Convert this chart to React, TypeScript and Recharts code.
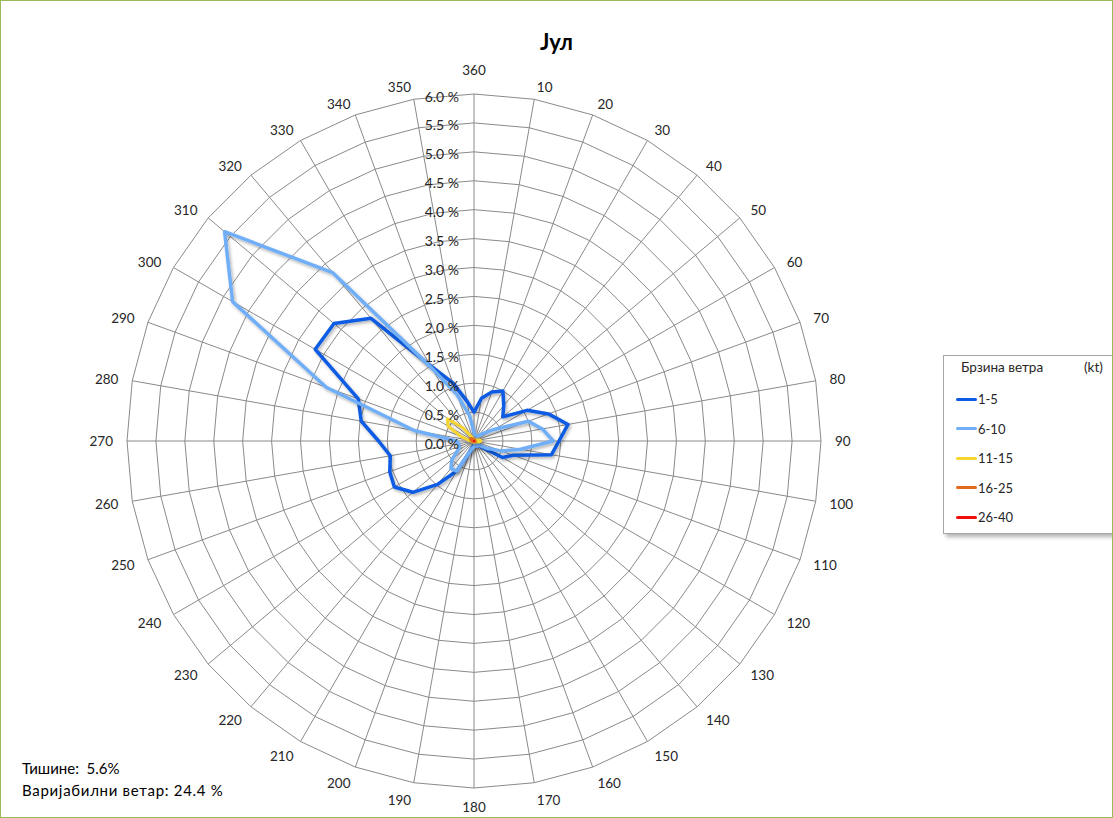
import React from 'react';
import {
  RadarChart,
  Radar,
  PolarGrid,
  PolarAngleAxis,
  PolarRadiusAxis,
  Legend,
} from 'recharts';

// wind directions, clockwise from north
const directions = [
  360, 10, 20, 30, 40, 50, 60, 70, 80, 90, 100, 110, 120, 130, 140, 150, 160, 170,
  180, 190, 200, 210, 220, 230, 240, 250, 260, 270, 280, 290, 300, 310, 320, 330, 340, 350,
];

// % of observations per direction, one list per speed class
const speed1to5 = [
  0.5, 0.75, 0.9, 1.0, 0.8, 0.65, 1.06, 1.37, 1.65, 1.47, 1.36, 0.72, 0.57, 0.15, 0.1, 0.1, 0.08, 0.08,
  0.08, 0.1, 0.2, 0.6, 0.98, 1.38, 1.59, 1.55, 1.47, 1.65, 1.98, 2.13, 3.17, 3.16, 2.77, 1.5, 1.07, 0.7,
];
const speed6to10 = [
  0.15, 0.1, 0.1, 0.1, 0.12, 0.2, 0.4, 1.0, 1.2, 1.37, 0.82, 0.5, 0.25, 0.12, 0.1, 0.1, 0.08, 0.08,
  0.1, 0.12, 0.18, 0.6, 0.62, 0.5, 0.32, 0.27, 0.27, 0.3, 1.05, 2.72, 4.82, 5.63, 3.8, 1.45, 0.85, 0.45,
];
const speed11to15 = [
  0.02, 0.02, 0.02, 0.02, 0.02, 0.03, 0.04, 0.05, 0.1, 0.12, 0.08, 0.03, 0.02, 0.02, 0.02, 0.02, 0.02, 0.02,
  0.02, 0.02, 0.02, 0.02, 0.02, 0.02, 0.02, 0.03, 0.04, 0.05, 0.1, 0.25, 0.52, 0.6, 0.3, 0.08, 0.03, 0.02,
];
const speed16to25 = [
  0.02, 0.02, 0.02, 0.02, 0.02, 0.02, 0.02, 0.02, 0.02, 0.02, 0.02, 0.02, 0.02, 0.02, 0.02, 0.02, 0.02, 0.02,
  0.02, 0.02, 0.02, 0.02, 0.02, 0.02, 0.02, 0.02, 0.02, 0.03, 0.04, 0.05, 0.07, 0.07, 0.05, 0.03, 0.02, 0.02,
];
const speed26to40 = [
  0.01, 0.01, 0.01, 0.01, 0.01, 0.01, 0.01, 0.01, 0.01, 0.01, 0.01, 0.01, 0.01, 0.01, 0.01, 0.01, 0.01, 0.01,
  0.01, 0.01, 0.01, 0.01, 0.01, 0.01, 0.01, 0.01, 0.01, 0.01, 0.01, 0.01, 0.01, 0.01, 0.01, 0.01, 0.01, 0.01,
];

const radiusTicks = [0, 0.5, 1, 1.5, 2, 2.5, 3, 3.5, 4, 4.5, 5, 5.5, 6];

const series = [
  { key: 's1', name: '1-5', color: '#0B5BE3', width: 3.5 },
  { key: 's2', name: '6-10', color: '#70AEF7', width: 3.5 },
  { key: 's3', name: '11-15', color: '#F4D532', width: 3 },
  { key: 's4', name: '16-25', color: '#E06A1B', width: 3 },
  { key: 's5', name: '26-40', color: '#F20D0D', width: 3 },
];

const data = directions.map((dir, i) => ({
  dir: String(dir),
  s1: speed1to5[i],
  s2: speed6to10[i],
  s3: speed11to15[i],
  s4: speed16to25[i],
  s5: speed26to40[i],
}));

const CX = 474;
const CY = 441;
const R = 347;
const FONT = "Lato, 'Noto Sans', 'Liberation Sans', sans-serif";

// excel-like placement: label box sits just outside the outer ring
const AngleTick = (props: any) => {
  const { index, payload } = props;
  const deg = index * 10;
  const a = (deg * Math.PI) / 180;
  const s = Math.round(Math.sin(a) * 1000) / 1000;
  const c = Math.round(Math.cos(a) * 1000) / 1000;
  const px = CX + R * s;
  const py = CY - R * c;
  let x = px + s * 14;
  let y = py - c * (c > 0 ? 12 : 17);
  if (s === 0) y = py + (c > 0 ? -24 : 19); // bottom one kept inside the frame
  const anchor = s > 0 ? 'start' : s < 0 ? 'end' : 'middle';
  return (
    <text x={x} y={y} textAnchor={anchor} dominantBaseline="central" fontSize={13.5} fill="#262626" fontFamily={FONT}>
      {payload.value}
    </text>
  );
};

const RadiusTick = (props: any) => {
  const { x, y, payload } = props;
  return (
    <text x={x - 15} y={y + 2} textAnchor="end" dominantBaseline="central" fontSize={14} fill="#262626" fontFamily={FONT}>
      {Number(payload.value).toFixed(1)} %
    </text>
  );
};

const LegendBox = (props: any) => {
  const items = [...(props.payload || [])].sort(
    (a: any, b: any) => series.findIndex((s) => s.name === a.value) - series.findIndex((s) => s.name === b.value)
  );
  return (
    <div
      style={{
        width: 175,
        height: 179,
        background: '#fff',
        border: '1px solid #a6a6a6',
        boxShadow: '3px 3px 4px rgba(0,0,0,0.3)',
        fontFamily: FONT,
        fontSize: 13,
        color: '#262626',
        boxSizing: 'border-box',
        position: 'relative',
      }}
    >
      <span style={{ position: 'absolute', left: 17, top: 3, fontSize: 13.5 }}>Брзина ветра</span>
      <span style={{ position: 'absolute', left: 140, top: 3, fontSize: 13.5 }}>(kt)</span>
      {items.map((item: any, i: number) => (
        <div
          key={item.value}
          style={{ position: 'absolute', left: 12, top: 34 + i * 29.5, height: 18, display: 'flex', alignItems: 'center' }}
        >
          <span style={{ display: 'inline-block', width: 21, height: 3, background: item.color, borderRadius: 2 }} />
          <span style={{ marginLeft: 1 }}>{item.value}</span>
        </div>
      ))}
    </div>
  );
};

export default function App() {
  return (
    <div style={{ position: 'absolute', left: 0, top: 0, width: 1113, height: 818, background: '#fff', overflow: 'hidden' }}>
      <div
        style={{
          position: 'absolute',
          left: 0,
          right: 0,
          top: 28,
          textAlign: 'center',
          fontFamily: FONT,
          fontWeight: 'bold',
          fontSize: 22,
          color: '#000',
        }}
      >
        Јул
      </div>
      <RadarChart
        width={1113}
        height={818}
        cx={CX}
        cy={CY}
        outerRadius={R}
        startAngle={90}
        endAngle={-270}
        data={data}
        margin={{ top: 0, right: 0, bottom: 0, left: 0 }}
      >
        <defs>
          <filter id="lineShadow" x="-20%" y="-20%" width="140%" height="140%">
            <feDropShadow dx="1.5" dy="2" stdDeviation="1.5" floodColor="#000" floodOpacity="0.3" />
          </filter>
        </defs>
        <PolarGrid gridType="polygon" stroke="#8a8a8a" strokeWidth={1} />
        <PolarAngleAxis dataKey="dir" tick={AngleTick} tickLine={false} axisLine={false} />
        <PolarRadiusAxis
          angle={90}
          type="number"
          domain={[0, 6]}
          ticks={radiusTicks as any}
          tickCount={13}
          axisLine={false}
          tick={RadiusTick}
        />
        {series.map((s) => (
          <Radar
            key={s.key}
            dataKey={s.key}
            name={s.name}
            stroke={s.color}
            strokeWidth={s.width}
            strokeLinejoin="round"
            fill="none"
            fillOpacity={0}
            dot={false}
            filter="url(#lineShadow)"
            isAnimationActive={false}
          />
        ))}
        <Legend
          layout="vertical"
          align="center"
          verticalAlign="middle"
          content={LegendBox}
          wrapperStyle={{ left: 943, top: 355, width: 175, height: 179 }}
        />
      </RadarChart>
      <div style={{ position: 'absolute', left: 22, top: 757, fontFamily: FONT, fontSize: 15, lineHeight: '22px', color: '#000' }}>
        <div style={{ whiteSpace: 'pre' }}>Тишине:  5.6%</div>
        <div style={{ letterSpacing: 0.7 }}>Варијабилни ветар: 24.4 %</div>
      </div>
      <div
        style={{
          position: 'absolute',
          left: 0,
          top: 0,
          width: 1113,
          height: 818,
          border: '1px solid #9BBB59',
          boxSizing: 'border-box',
          pointerEvents: 'none',
        }}
      />
    </div>
  );
}
